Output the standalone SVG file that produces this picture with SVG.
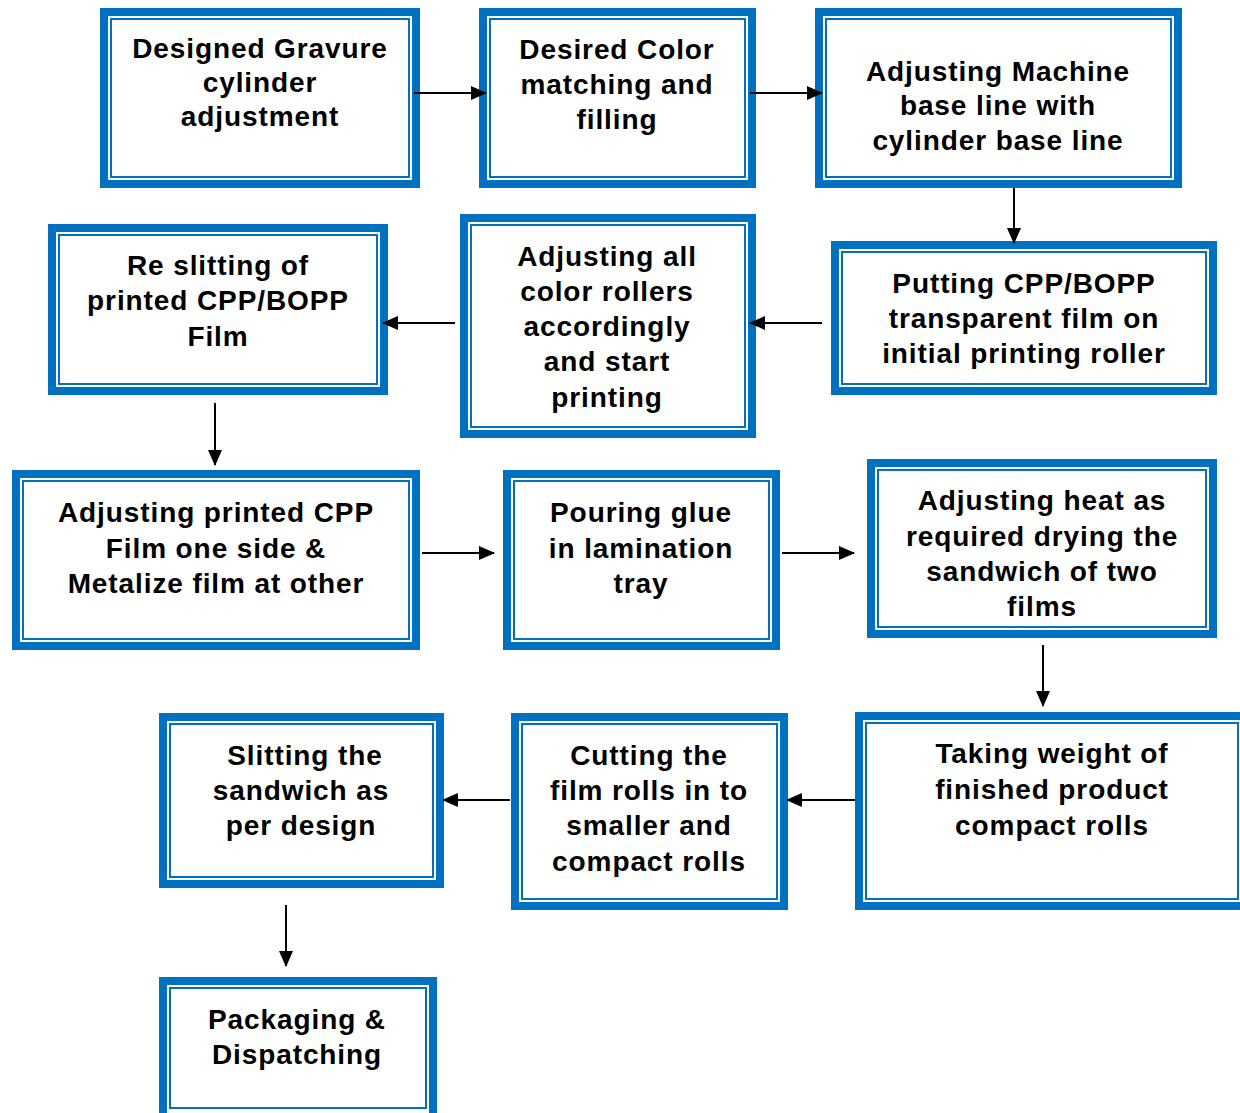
<svg xmlns="http://www.w3.org/2000/svg" width="1240" height="1113" viewBox="0 0 1240 1113">
<style>
.o{fill:#fff;stroke:#0070C0;stroke-width:8}
.i{fill:none;stroke:#0070C0;stroke-width:2}
.t{font-family:"Liberation Sans",Arial,sans-serif;font-weight:bold;font-size:28px;letter-spacing:0.9px;fill:#000;text-anchor:middle}
.c{stroke:#000;stroke-width:2;fill:none;marker-end:url(#ah)}
</style>
<defs>
<marker id="ah" markerWidth="16" markerHeight="14" refX="15" refY="7" orient="auto" markerUnits="userSpaceOnUse">
<path d="M0,0 L16,7 L0,14 Z" fill="#000"/>
</marker>
</defs>
<rect width="1240" height="1113" fill="#fff"/>
<g id="n1">
<rect class="o" x="104" y="12" width="312" height="172"/>
<rect class="i" x="111" y="19" width="298" height="158"/>
<text class="t" x="260" y="58">Designed Gravure</text>
<text class="t" x="260" y="92">cylinder</text>
<text class="t" x="260" y="126">adjustment</text>
</g>
<g id="n2">
<rect class="o" x="483" y="12" width="269" height="172"/>
<rect class="i" x="490" y="19" width="255" height="158"/>
<text class="t" x="617" y="59">Desired Color</text>
<text class="t" x="617" y="94">matching and</text>
<text class="t" x="617" y="129">filling</text>
</g>
<g id="n3">
<rect class="o" x="819" y="12" width="359" height="172"/>
<rect class="i" x="826" y="19" width="345" height="158"/>
<text class="t" x="998" y="81">Adjusting Machine</text>
<text class="t" x="998" y="115">base line with</text>
<text class="t" x="998" y="150">cylinder base line</text>
</g>
<g id="n4">
<rect class="o" x="835" y="245" width="378" height="146"/>
<rect class="i" x="842" y="252" width="364" height="132"/>
<text class="t" x="1024" y="293">Putting CPP/BOPP</text>
<text class="t" x="1024" y="328">transparent film on</text>
<text class="t" x="1024" y="363">initial printing roller</text>
</g>
<g id="n5">
<rect class="o" x="464" y="218" width="288" height="216"/>
<rect class="i" x="471" y="225" width="274" height="202"/>
<text class="t" x="607" y="266">Adjusting all</text>
<text class="t" x="607" y="301">color rollers</text>
<text class="t" x="607" y="336">accordingly</text>
<text class="t" x="607" y="371">and start</text>
<text class="t" x="607" y="407">printing</text>
</g>
<g id="n6">
<rect class="o" x="52" y="228" width="332" height="163"/>
<rect class="i" x="59" y="235" width="318" height="149"/>
<text class="t" x="218" y="275">Re slitting of</text>
<text class="t" x="218" y="310">printed CPP/BOPP</text>
<text class="t" x="218" y="346">Film</text>
</g>
<g id="n7">
<rect class="o" x="16" y="474" width="400" height="172"/>
<rect class="i" x="23" y="481" width="386" height="158"/>
<text class="t" x="216" y="522">Adjusting printed CPP</text>
<text class="t" x="216" y="558">Film one side &amp;</text>
<text class="t" x="216" y="593">Metalize film at other</text>
</g>
<g id="n8">
<rect class="o" x="507" y="474" width="269" height="172"/>
<rect class="i" x="514" y="481" width="255" height="158"/>
<text class="t" x="641" y="522">Pouring glue</text>
<text class="t" x="641" y="558">in lamination</text>
<text class="t" x="641" y="593">tray</text>
</g>
<g id="n9">
<rect class="o" x="871" y="463" width="342" height="171"/>
<rect class="i" x="878" y="470" width="328" height="157"/>
<text class="t" x="1042" y="510">Adjusting heat as</text>
<text class="t" x="1042" y="546">required drying the</text>
<text class="t" x="1042" y="581">sandwich of two</text>
<text class="t" x="1042" y="616">films</text>
</g>
<g id="n10">
<rect class="o" x="859" y="716" width="388" height="190"/>
<rect class="i" x="866" y="723" width="372" height="176"/>
<text class="t" x="1052" y="763">Taking weight of</text>
<text class="t" x="1052" y="799">finished product</text>
<text class="t" x="1052" y="835">compact rolls</text>
</g>
<g id="n11">
<rect class="o" x="515" y="717" width="269" height="189"/>
<rect class="i" x="522" y="724" width="255" height="175"/>
<text class="t" x="649" y="765">Cutting the</text>
<text class="t" x="649" y="800">film rolls in to</text>
<text class="t" x="649" y="835">smaller and</text>
<text class="t" x="649" y="871">compact rolls</text>
</g>
<g id="n12">
<rect class="o" x="163" y="717" width="277" height="167"/>
<rect class="i" x="170" y="724" width="263" height="153"/>
<text class="t" x="305" y="765">Slitting the</text>
<text class="t" x="301" y="800">sandwich as</text>
<text class="t" x="301" y="835">per design</text>
</g>
<g id="n13">
<rect class="o" x="163" y="981" width="270" height="140"/>
<rect class="i" x="170" y="988" width="256" height="120"/>
<text class="t" x="297" y="1029">Packaging &amp;</text>
<text class="t" x="297" y="1064">Dispatching</text>
</g>
<g id="connectors">
<line class="c" x1="414" y1="93" x2="486" y2="93"/>
<line class="c" x1="750" y1="93" x2="822" y2="93"/>
<line class="c" x1="1014" y1="188" x2="1014" y2="243"/>
<line class="c" x1="822" y1="323" x2="750" y2="323"/>
<line class="c" x1="455" y1="323" x2="383" y2="323"/>
<line class="c" x1="215" y1="403" x2="215" y2="465"/>
<line class="c" x1="422" y1="553" x2="494" y2="553"/>
<line class="c" x1="782" y1="553" x2="854" y2="553"/>
<line class="c" x1="1043" y1="645" x2="1043" y2="706"/>
<line class="c" x1="855" y1="800" x2="787" y2="800"/>
<line class="c" x1="510" y1="800" x2="443" y2="800"/>
<line class="c" x1="286" y1="905" x2="286" y2="966"/>
</g>
</svg>
